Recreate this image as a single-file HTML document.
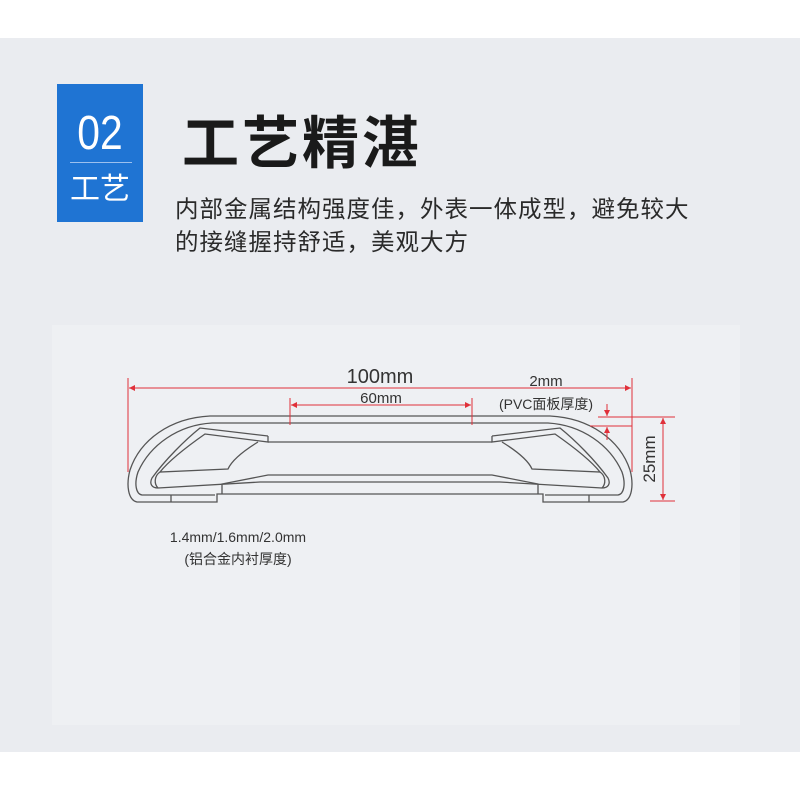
<!DOCTYPE html>
<html><head><meta charset="utf-8"><style>
body{margin:0;width:800px;height:800px;background:#fff;position:relative;overflow:hidden;font-family:"Liberation Sans","Noto Sans CJK SC",sans-serif}
.bg{position:absolute;left:0;top:38px;width:800px;height:714px;background:#eaecf0}
.panel{position:absolute;left:52px;top:325px;width:688px;height:400px;background:#eef0f3}
.box{position:absolute;left:57px;top:84px;width:86px;height:138px;background:#1f74d3;color:#fff;text-align:center}
.n{position:absolute;left:0;width:86px;top:26px;font-size:48px;line-height:48px;font-family:"Liberation Sans Narrow","Liberation Sans",sans-serif;transform:scaleX(.85)}
.ln{position:absolute;left:13px;width:62px;top:78px;height:1px;background:#9cc0ee}
.z{position:absolute;left:0;width:86px;top:86px;font-size:30px;line-height:32px;font-family:"Noto Sans CJK SC",sans-serif}
.t{position:absolute;left:182px;top:104px;font-size:57px;font-weight:bold;color:#1a1a1a;font-family:"Noto Sans CJK SC",sans-serif;line-height:70px;letter-spacing:3px}
.s{position:absolute;left:175px;top:191px;font-size:23.5px;line-height:33px;color:#2a2a2a;font-family:"Noto Sans CJK SC",sans-serif;letter-spacing:1px}
svg{position:absolute;left:0;top:0}
</style></head><body>
<div class="bg"></div><div class="panel"></div>
<div class="box"><div class="n">02</div><div class="ln"></div><div class="z">工艺</div></div>
<div class="t">工艺精湛</div>
<div class="s">内部金属结构强度佳，外表一体成型，避免较大<br>的接缝握持舒适，美观大方</div>
<svg width="800" height="800" viewBox="0 0 800 800">
<defs><marker id="a" viewBox="0 0 10 10" refX="10" refY="5" markerWidth="6" markerHeight="6" orient="auto-start-reverse"><path d="M0,0L10,5L0,10z" fill="#e0303a"/></marker></defs>
<g fill="none" stroke="#555" stroke-width="1.3">
<g id="half">
<path d="M380,416 H210 C170,418 140,440 130,470 C126,485 128,500 137,502 H217 V494 H380"/>
<path d="M380,423 H212 C178,425 150,445 138,472 C134,484 136,494 142,495 H215"/>
<path d="M268,436 L200,428 C185,440 165,460 152,478 C149,484 152,488 158,488 L260,482 H380"/>
<path d="M268,436 V442 L205,434 C185,448 168,462 160,472 L228,469 C232,460 245,450 258,442"/>
<path d="M160,472 C154,476 154,484 158,488"/>
<path d="M380,442 H268"/>
<path d="M380,475 H268 L222,484 V494"/>
<path d="M171,495 V502"/>
</g>
<use href="#half" transform="translate(760,0) scale(-1,1)"/>
</g>
<g stroke="#e0303a" stroke-width="1" fill="none">
<line x1="128" y1="378" x2="128" y2="472"/><line x1="632" y1="378" x2="632" y2="472"/>
<line x1="129" y1="388" x2="631" y2="388" marker-start="url(#a)" marker-end="url(#a)"/>
<line x1="290" y1="398" x2="290" y2="425"/><line x1="472" y1="398" x2="472" y2="425"/>
<line x1="291" y1="405" x2="471" y2="405" marker-start="url(#a)" marker-end="url(#a)"/>
<line x1="598" y1="417" x2="675" y2="417"/><line x1="590" y1="426" x2="632" y2="426"/>
<line x1="650" y1="501" x2="675" y2="501"/>
<line x1="663" y1="418" x2="663" y2="500" marker-start="url(#a)" marker-end="url(#a)"/>
<line x1="607" y1="404" x2="607" y2="416" marker-end="url(#a)"/>
<line x1="607" y1="440" x2="607" y2="427" marker-end="url(#a)"/>
</g>
<g fill="#333" font-family="Liberation Sans,Noto Sans CJK SC,sans-serif">
<text x="380" y="383" font-size="20" text-anchor="middle">100mm</text>
<text x="381" y="403" font-size="15" text-anchor="middle">60mm</text>
<text x="546" y="386" font-size="15" text-anchor="middle">2mm</text>
<text x="546" y="409" font-size="14" text-anchor="middle">(PVC面板厚度)</text>
<text transform="translate(655,459) rotate(-90)" font-size="17" text-anchor="middle">25mm</text>
<text x="238" y="542" font-size="14" text-anchor="middle">1.4mm/1.6mm/2.0mm</text>
<text x="238" y="564" font-size="14" text-anchor="middle">(铝合金内衬厚度)</text>
</g>
</svg>
</body></html>
